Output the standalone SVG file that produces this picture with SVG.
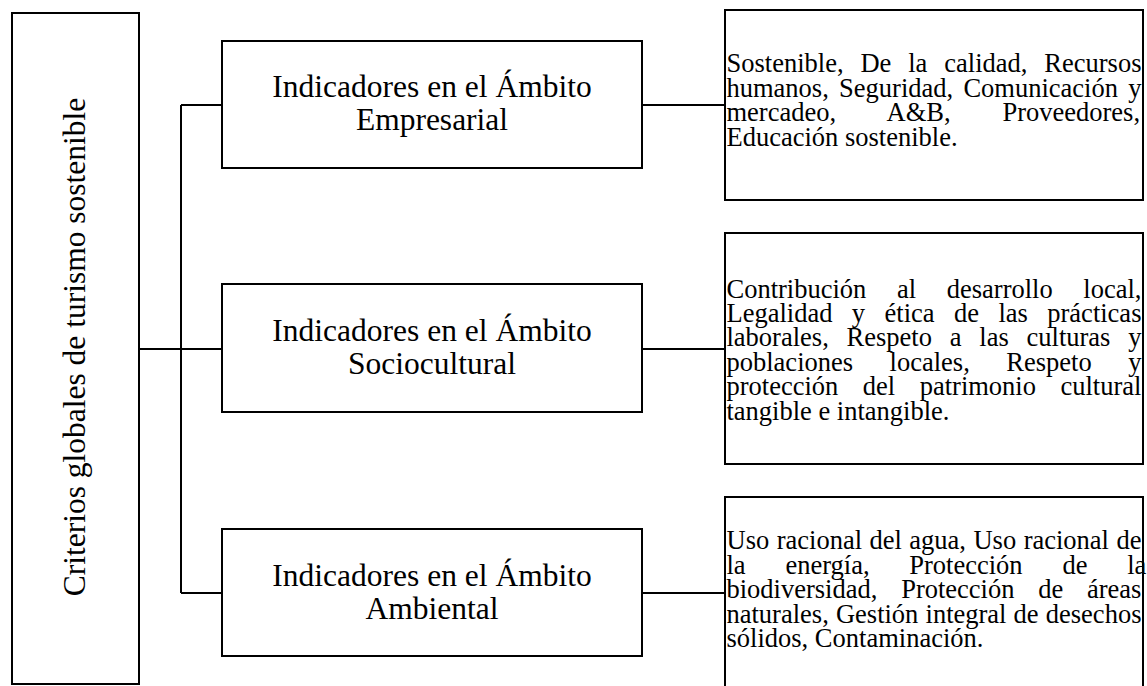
<svg xmlns="http://www.w3.org/2000/svg" width="1147" height="686" viewBox="0 0 1147 686">
<style>
.box{fill:#fff;stroke:#000;stroke-width:2}
.conn{fill:none;stroke:#000;stroke-width:2}
.big{font-family:"Liberation Serif","Times New Roman",serif;font-size:31.5px;fill:#000}
.mid{font-family:"Liberation Serif","Times New Roman",serif;font-size:31.5px;fill:#000;text-anchor:middle}
.sm{font-family:"Liberation Serif","Times New Roman",serif;font-size:26.5px;fill:#000}
</style>
<rect width="1147" height="686" fill="#fff"/>
<g id="connectors">
<path class="conn" d="M139,349 H222 M181,105 V593 M181,105 H222 M181,593 H222 M642,105 H725 M642,349 H725 M642,593 H725"/>
</g>
<g id="root">
<rect class="box" x="12" y="13" width="127" height="671"/>
<text class="big" transform="translate(85,347) rotate(-90)" text-anchor="middle">Criterios globales de turismo sostenible</text>
</g>
<g id="empresarial">
<rect class="box" x="222" y="41" width="420" height="127"/>
<text class="mid" x="432" y="97">Indicadores en el Ámbito</text>
<text class="mid" x="432" y="130">Empresarial</text>
</g>
<g id="sociocultural">
<rect class="box" x="222" y="284" width="420" height="128"/>
<text class="mid" x="432" y="341">Indicadores en el Ámbito</text>
<text class="mid" x="432" y="374">Sociocultural</text>
</g>
<g id="ambiental">
<rect class="box" x="222" y="529" width="420" height="127"/>
<text class="mid" x="432" y="586">Indicadores en el Ámbito</text>
<text class="mid" x="432" y="619">Ambiental</text>
</g>
<g id="detalle-empresarial">
<rect class="box" x="725" y="10" width="418" height="190"/>
<text class="sm" x="726.5" y="72" word-spacing="10.28">Sostenible, De la calidad, Recursos</text>
<text class="sm" x="726.5" y="96.5" word-spacing="3.63">humanos, Seguridad, Comunicación y</text>
<text class="sm" x="726.5" y="121" word-spacing="45.24">mercadeo, A&amp;B, Proveedores,</text>
<text class="sm" x="726.5" y="145.5">Educación sostenible.</text>
</g>
<g id="detalle-sociocultural">
<rect class="box" x="725" y="233" width="418" height="231"/>
<text class="sm" x="726.5" y="298" word-spacing="24">Contribución al desarrollo local,</text>
<text class="sm" x="726.5" y="322" word-spacing="12.8">Legalidad y ética de las prácticas</text>
<text class="sm" x="726.5" y="346" word-spacing="11.17">laborales, Respeto a las culturas y</text>
<text class="sm" x="726.5" y="370.5" word-spacing="29.9">poblaciones locales, Respeto y</text>
<text class="sm" x="726.5" y="395" word-spacing="17.87">protección del patrimonio cultural</text>
<text class="sm" x="726.5" y="419.5">tangible e intangible.</text>
</g>
<g id="detalle-ambiental">
<rect class="box" x="725" y="497" width="418" height="210"/>
<text class="sm" x="726.5" y="549" word-spacing="0.85">Uso racional del agua, Uso racional de</text>
<text class="sm" x="726.5" y="573.5" word-spacing="33.15">la energía, Protección de la</text>
<text class="sm" x="726.5" y="598" word-spacing="17.14">biodiversidad, Protección de áreas</text>
<text class="sm" x="726.5" y="622.5" word-spacing="0.53">naturales, Gestión integral de desechos</text>
<text class="sm" x="726.5" y="647">sólidos, Contaminación.</text>
</g>
</svg>
